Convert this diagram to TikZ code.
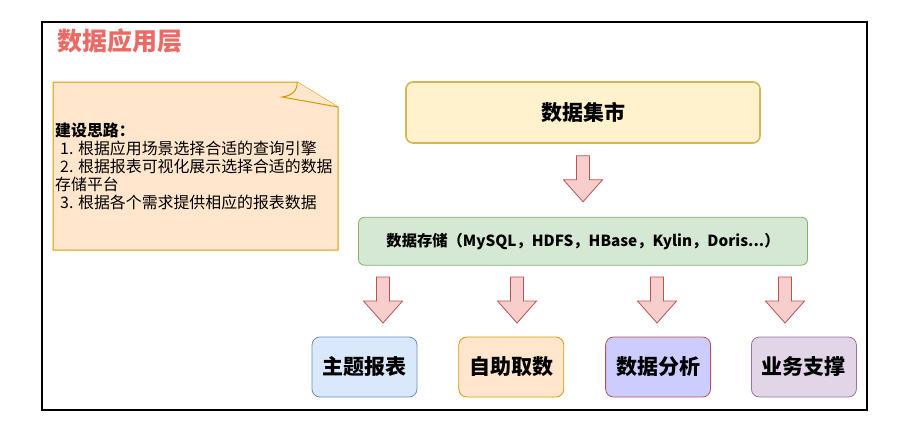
\documentclass[tikz,border=0pt]{standalone}
\usepackage{fontspec}
\setmainfont{Noto Sans CJK SC}
\usepackage{tikz}
\usetikzlibrary{positioning}

\definecolor{titlered}{HTML}{EA6B66}
\definecolor{notefill}{HTML}{FFE6CC}
\definecolor{notedraw}{HTML}{D79B00}
\definecolor{martfill}{HTML}{FFF2CC}
\definecolor{martdraw}{HTML}{D6B656}
\definecolor{storefill}{HTML}{D5E8D4}
\definecolor{storedraw}{HTML}{82B366}
\definecolor{arrfill}{HTML}{F8CECC}
\definecolor{arrdraw}{HTML}{B85450}
\definecolor{bluefill}{HTML}{DAE8FC}
\definecolor{bluedraw}{HTML}{6C8EBF}
\definecolor{lilacfill}{HTML}{CCCCFF}
\definecolor{purplefill}{HTML}{E1D5E7}
\definecolor{purpledraw}{HTML}{9673A6}

% block arrow pointing down, #1 = top centre
\newcommand{\blockarrow}[1]{%
  \draw[blockarr, shift={(#1)}] (-6.5,0) -- (6.5,0) -- (6.5,24) -- (19.5,24)
    -- (0,46) -- (-19.5,24) -- (-6.5,24) -- cycle;}

\begin{document}
\begin{tikzpicture}[
    x=1pt, y=-1pt,
    box/.style={draw, rounded corners=8pt, align=center, inner sep=0pt, font=\bfseries},
    mart/.style={box, fill=martfill, draw=martdraw, line width=1.6pt, rounded corners=7pt,
                 minimum width=354pt, minimum height=61pt, font=\fontsize{21}{25}\selectfont\bfseries},
    store/.style={box, fill=storefill, draw=storedraw, line width=0.8pt, rounded corners=6pt,
                  minimum width=449pt, minimum height=48pt, font=\fontsize{15.3}{18}\selectfont\bfseries},
    app/.style={box, line width=0.8pt, minimum width=105pt, minimum height=60pt,
                font=\fontsize{21}{25}\selectfont\bfseries},
    blockarr/.style={fill=arrfill, draw=arrdraw, line width=0.8pt, line join=miter},
    node distance=73pt and 41pt,
]
\useasboundingbox (0,0) rectangle (915,424);

% --- FRAME + TITLE ---
\draw[line width=1.3pt] (42,22) rectangle (867,410);
\node[anchor=west, inner sep=0pt, text=titlered, font=\fontsize{25}{29}\selectfont\bfseries]
    (title) at (57,41) {数据应用层};

% --- NOTE (LEFT) ---
\draw[fill=notefill, draw=notedraw, line width=1pt, line join=miter]
    (53,82) -- (297,82) -- (338,107) -- (338,250) -- (53,250) -- cycle;
\draw[fill=notefill, draw=notedraw, line width=1pt, line join=miter]
    (297,82) .. controls (298,90) and (292,96) .. (282,97) -- (338,107);
\node[anchor=west, align=left, inner sep=0pt, font=\fontsize{15.9}{18}\selectfont] (idea) at (55,166) {
    {\bfseries 建设思路：}\\
    \hspace{5pt}1. 根据应用场景选择合适的查询引擎\\
    \hspace{5pt}2. 根据报表可视化展示选择合适的数据\\
    存储平台\\
    \hspace{5pt}3. 根据各个需求提供相应的报表数据
};

% --- MART + STORAGE ---
\node[mart] (mart) at (583,112.5) {数据集市};
\node[store, below=73pt of mart] (store) {数据存储（MySQL，HDFS，HBase，Kylin，Doris...）};

% --- APPLICATIONS (BOTTOM) ---
\node[app, fill=bluefill, draw=bluedraw] (report) at (364.5,367) {主题报表};
\node[app, fill=notefill, draw=notedraw, right=41pt of report] (fetch) {自助取数};
\node[app, fill=lilacfill, draw=arrdraw, right=41pt of fetch] (analyse) {数据分析};
\node[app, fill=purplefill, draw=purpledraw, right=40pt of analyse] (support) {业务支撑};

% Arrows between the layers
\coordinate (a0) at ([yshift=-12pt]mart.south);
\coordinate (a1) at (383,277);
\coordinate (a2) at (517,277);
\coordinate (a3) at (657,277);
\coordinate (a4) at (785,277);
\blockarrow{a0}
\blockarrow{a1}
\blockarrow{a2}
\blockarrow{a3}
\blockarrow{a4}

\end{tikzpicture}
\end{document}
